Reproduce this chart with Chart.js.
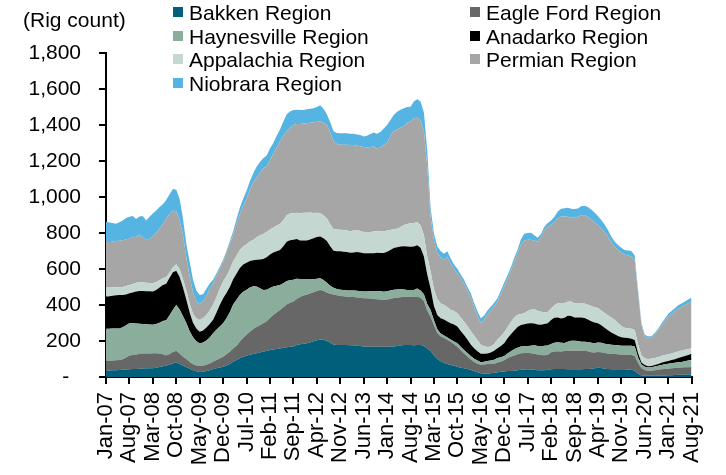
<!DOCTYPE html>
<html>
<head>
<meta charset="utf-8">
<script src="https://cdn.jsdelivr.net/npm/chart.js@4.4.0/dist/chart.umd.min.js"></script>
<style>
  html, body { margin: 0; padding: 0; background: #fff; }
  #wrap { position: relative; width: 726px; height: 475px; font-family: "Liberation Sans", Arial, sans-serif; color: #000; }
  #chart { position: absolute; left: 0; top: 0; }
  .unit { position: absolute; left: 23px; top: 8px; font-size: 21px; line-height: 23.5px; white-space: nowrap; }
  .leg { position: absolute; font-size: 21px; line-height: 23.5px; white-space: nowrap; }
  .leg i { position: absolute; left: -16px; top: 6px; width: 10px; height: 10px; }
</style>
</head>
<body>
<div id="wrap">
  <canvas id="chart" width="726" height="475"></canvas>
  <div class="unit">(Rig count)</div>
  <div id="legend"></div>
</div>
<script>
// monthly rig counts, Jan-07 .. Aug-21 (one line per year)
const bakken = [
  35,36,37,38,39,40,41,43,44,45,46,47,
  48,48,49,52,56,60,64,68,75,80,72,62,
  55,46,38,32,28,29,33,38,45,49,53,57,
  64,72,85,94,104,113,118,124,128,132,136,141,
  145,150,153,156,159,162,165,168,170,178,182,185,
  187,192,198,204,209,207,200,190,180,178,178,178,
  178,177,176,174,172,170,168,168,168,168,168,168,
  168,168,170,172,175,178,178,178,176,178,178,172,
  158,145,120,100,88,78,72,67,62,57,52,48,
  44,39,32,26,21,20,20,21,24,27,29,31,
  33,34,35,37,40,42,43,42,40,38,37,38,
  40,43,44,45,44,44,43,43,43,43,43,44,
  45,46,48,52,50,46,44,43,43,43,43,43,
  42,40,35,18,9,7,7,7,8,8,9,9,
  10,10,11,12,12,13,14,15
]
const eagleFord = [
  53,54,55,55,55,58,68,77,78,80,82,83,
  83,83,83,80,74,66,56,60,64,66,58,50,
  45,38,33,32,33,34,35,37,40,45,50,56,
  62,68,73,80,92,105,117,128,138,146,152,157,
  165,178,192,203,213,225,238,245,250,256,262,268,
  270,272,273,274,274,272,268,272,278,276,272,270,
  268,268,268,268,268,268,269,268,266,264,262,260,
  262,266,269,268,268,268,268,268,268,268,262,250,
  210,190,167,145,139,139,135,129,120,111,97,83,
  70,58,52,48,47,50,52,51,50,53,56,62,
  71,78,85,90,92,92,92,90,89,87,85,83,
  83,95,98,98,98,100,103,103,103,103,103,102,
  98,92,88,87,88,88,87,86,85,83,80,80,
  81,82,82,60,40,32,28,28,30,32,34,36,
  36,38,39,40,41,41,40,40
]
const haynesville = [
  180,178,177,176,176,178,178,178,176,172,168,165,
  162,160,158,162,172,185,195,215,235,254,245,225,
  200,170,150,135,125,128,135,145,158,168,177,185,
  200,220,245,255,259,255,250,245,238,225,205,185,
  175,167,158,148,139,134,130,125,120,112,100,92,
  88,80,72,68,65,60,55,45,38,35,35,35,
  35,35,36,37,37,37,38,40,42,45,46,46,
  46,46,46,46,44,40,38,37,40,45,40,38,
  37,37,28,20,15,13,13,13,15,19,19,19,
  19,19,18,17,14,15,17,19,22,25,25,23,
  27,31,34,36,37,37,37,42,48,47,48,52,
  52,46,48,50,48,45,50,55,56,54,50,50,
  51,52,52,52,52,51,51,50,50,50,50,50,
  50,51,52,30,20,18,18,19,20,22,24,26,
  27,28,29,30,31,34,37,40
]
const anadarko = [
  178,180,183,185,186,180,172,167,172,178,182,183,
  184,185,185,190,195,200,203,208,208,190,180,160,
  130,105,80,70,65,68,72,74,75,95,120,140,
  140,140,140,145,150,152,150,148,145,148,160,172,
  180,185,188,192,195,205,218,222,222,220,215,213,
  213,220,228,232,232,232,232,220,205,210,213,213,
  213,210,212,215,214,213,212,211,212,213,213,215,
  220,225,232,235,238,240,241,241,241,241,238,210,
  165,120,80,80,84,89,89,89,95,93,88,83,
  76,65,58,52,47,44,42,45,50,55,62,72,
  84,95,105,115,120,122,125,124,120,120,120,122,
  124,132,139,137,135,140,144,138,128,130,135,132,
  126,120,115,108,97,88,78,68,60,52,48,45,
  43,40,37,25,12,10,7,7,8,10,12,14,
  16,18,20,23,27,29,31,34
]
const appalachia = [
  54,52,48,44,42,44,46,46,47,48,48,48,
  47,46,46,44,40,38,37,30,28,37,44,48,
  50,50,50,58,65,68,70,75,83,86,90,93,
  95,97,100,100,100,100,102,108,112,125,135,140,
  140,140,140,142,144,146,148,148,148,147,150,155,
  155,150,140,135,130,128,125,122,120,120,120,120,
  120,120,122,122,120,118,118,118,120,120,120,120,
  118,112,105,102,108,118,125,130,130,129,125,118,
  100,95,93,88,83,83,80,75,74,74,74,74,
  74,74,70,62,52,42,36,33,38,48,55,60,
  62,68,72,68,60,62,70,75,80,76,72,65,
  62,64,70,80,86,82,78,80,80,79,78,80,
  82,84,84,84,83,83,83,83,80,72,62,56,
  55,55,55,48,40,37,38,42,40,38,37,37,
  37,37,37,37,36,35,33,31
]
const permian = [
  252,250,252,257,259,260,260,257,262,255,265,250,
  236,248,259,272,288,301,325,324,315,293,271,245,
  185,151,119,93,90,93,105,121,119,117,110,110,
  129,143,147,176,200,225,253,287,319,334,347,365,
  365,385,409,434,460,468,466,477,490,492,496,495,
  497,498,504,505,510,513,522,511,489,476,472,474,
  476,479,475,469,471,472,470,473,472,460,466,481,
  486,523,545,552,552,551,562,566,582,579,582,582,
  500,303,272,257,256,248,276,257,234,222,218,213,
  197,191,160,135,119,149,183,201,211,212,233,257,
  268,284,309,341,386,403,395,389,381,384,413,455,
  474,465,461,470,480,480,472,466,475,481,489,492,
  488,481,473,462,455,449,437,420,407,405,407,406,
  404,402,389,289,169,121,120,115,129,148,169,188,
  209,219,229,239,243,248,255,260
]
const niobrara = [
  111,108,103,97,103,110,118,122,115,100,100,118,
  110,120,129,125,120,110,103,110,120,120,120,90,
  75,80,70,60,49,40,40,30,20,15,12,11,
  10,14,20,28,35,40,45,48,52,58,60,55,
  60,65,60,65,65,80,95,90,83,80,78,75,
  77,78,78,82,90,78,58,55,55,61,64,64,
  64,63,62,62,62,58,65,72,78,82,86,90,
  100,88,88,99,100,98,88,82,93,103,105,100,
  90,50,38,35,35,35,33,28,25,25,22,20,
  20,20,22,25,26,22,20,20,18,18,20,20,
  20,20,22,20,30,38,38,40,30,22,20,20,
  20,24,30,40,44,46,50,50,48,46,50,52,
  54,56,54,50,47,42,36,31,28,28,28,26,
  28,30,25,15,12,10,9,9,9,10,12,14,
  15,16,17,18,18,19,20,22
]

const seriesNames = ['Bakken Region', 'Eagle Ford Region', 'Haynesville Region', 'Anadarko Region', 'Appalachia Region', 'Permian Region', 'Niobrara Region']
const seriesData = [bakken, eagleFord, haynesville, anadarko, appalachia, permian, niobrara]
const seriesColors = ['#005F7A', '#676767', '#8AAD9C', '#000000', '#C5D7D1', '#A6A6A6', '#56B4E2']

const monthNames = ['Jan','Feb','Mar','Apr','May','Jun','Jul','Aug','Sep','Oct','Nov','Dec']
const labels = []
for (let y = 2007; y <= 2021; y++) {
  for (let m = 0; m < 12; m++) {
    if (y === 2021 && m > 7) break
    labels.push(monthNames[m] + '-' + String(y).slice(2))
  }
}
const yTicks = [0, 200, 400, 600, 800, 1000, 1200, 1400, 1600, 1800]

// legend, two columns like the original
const legendPos = [
  [189, 1], [486, 1],
  [189, 24.5], [486, 24.5],
  [189, 48], [486, 48],
  [189, 71.5]
]
const legend = document.getElementById('legend')
seriesNames.forEach(function (name, i) {
  const d = document.createElement('div')
  d.className = 'leg'
  d.style.left = legendPos[i][0] + 'px'
  d.style.top = legendPos[i][1] + 'px'
  d.innerHTML = '<i style="background:' + seriesColors[i] + '"></i>' + name
  legend.appendChild(d)
})

const font = { family: '"Liberation Sans", Arial, sans-serif', size: 21 }
const xFont = { family: '"Liberation Sans", Arial, sans-serif', size: 22 }

new Chart(document.getElementById('chart'), {
  type: 'line',
  data: {
    labels: labels,
    datasets: seriesData.map(function (vals, i) {
      return {
        label: seriesNames[i],
        data: vals,
        backgroundColor: seriesColors[i],
        borderColor: seriesColors[i],
        borderWidth: 0,
        pointRadius: 0,
        tension: 0,
        fill: i === 0 ? 'origin' : '-1'
      }
    })
  },
  options: {
    responsive: false,
    animation: false,
    devicePixelRatio: 1,
    layout: { padding: { top: 53, right: 31, bottom: 0, left: 0 } },
    plugins: { legend: { display: false }, tooltip: { enabled: false } },
    scales: {
      x: {
        z: 1,
        afterFit: function (s) { s.height = 98 },
        afterBuildTicks: function (s) { s.ticks = s.ticks.filter(function (t) { return t.value % 7 === 0 }) },
        grid: { drawOnChartArea: false, drawTicks: true, tickLength: 7, color: '#000', lineWidth: 2 },
        border: { color: '#000', width: 2 },
        ticks: { autoSkip: false, minRotation: 90, maxRotation: 90, padding: 8, color: '#000', font: xFont }
      },
      y: {
        z: 1,
        stacked: true,
        min: 0,
        max: 1800,
        afterFit: function (s) { s.width = 106 },
        afterBuildTicks: function (s) { s.ticks = yTicks.map(function (v) { return { value: v } }) },
        grid: { drawOnChartArea: false, drawTicks: true, tickLength: 7, color: '#000', lineWidth: 2 },
        border: { color: '#000', width: 2 },
        ticks: {
          padding: 18,
          color: '#000',
          font: font,
          callback: function (v) { return v === 0 ? '-  ' : v.toLocaleString('en-US') }
        }
      }
    }
  }
})
</script>
</body>
</html>
